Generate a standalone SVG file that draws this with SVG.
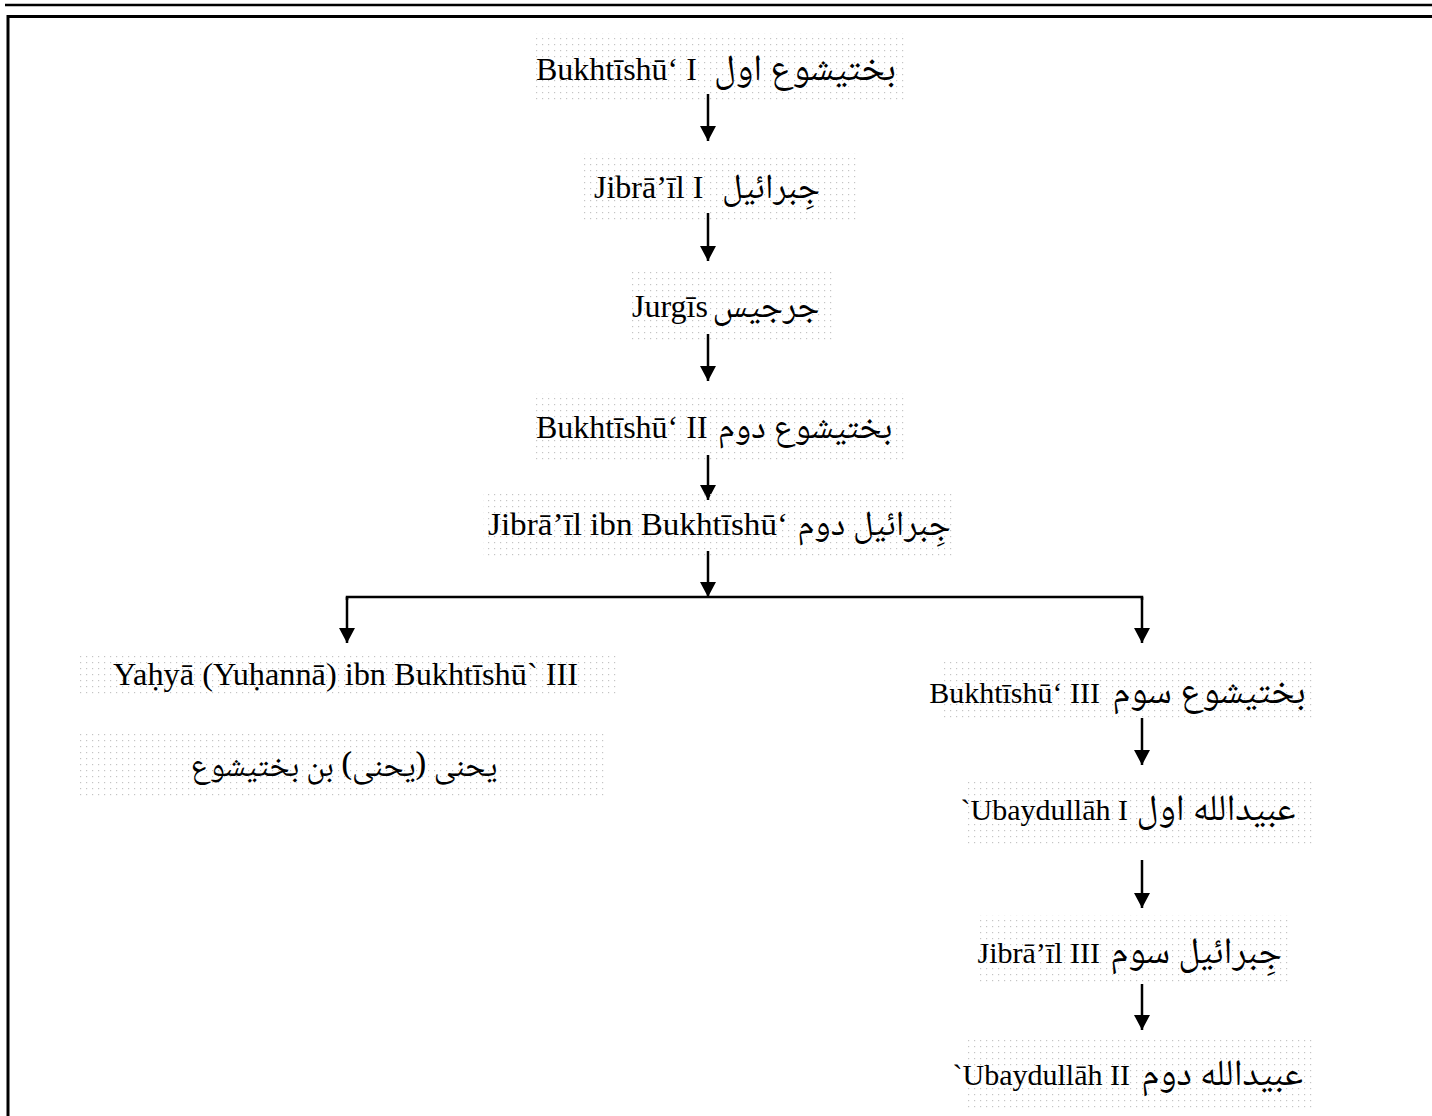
<svg xmlns="http://www.w3.org/2000/svg" width="1432" height="1116" viewBox="0 0 1432 1116">
<defs>
<pattern id="dots" x="0" y="0" width="6" height="6" patternUnits="userSpaceOnUse">
<rect x="2" y="2" width="1.2" height="1.2" fill="#c4c4c4"/>
</pattern>
<marker id="ah" markerWidth="15" markerHeight="16" refX="15" refY="8" orient="auto" markerUnits="userSpaceOnUse" viewBox="0 0 15 16">
<path d="M0,0 L15,8 L0,16 Z" fill="#000"/>
</marker>
</defs>
<style>
.bg{fill:url(#dots);}
.l{font-family:"Liberation Serif",serif;font-size:32px;fill:#000;}
.r{font-family:"Liberation Serif",serif;font-size:30px;fill:#000;text-anchor:end;}
.ar{font-family:"Noto Naskh Arabic","DejaVu Sans",serif;font-size:35px;fill:#000;text-anchor:middle;direction:rtl;}
.ar2{font-family:"Noto Naskh Arabic","DejaVu Sans",serif;font-size:37px;fill:#000;text-anchor:middle;direction:rtl;}
.c{fill:none;stroke:#000;stroke-width:2.5;}
.a{fill:none;stroke:#000;stroke-width:2.5;marker-end:url(#ah);}
</style>
<rect width="1432" height="1116" fill="#fff"/>
<line x1="5" y1="5" x2="1432" y2="5" stroke="#000" stroke-width="2.5"/>
<path d="M8,1116 V16.5 H1432" fill="none" stroke="#000" stroke-width="3"/>

<g id="connectors">
<line class="a" x1="708" y1="94" x2="708" y2="141"/>
<line class="a" x1="708" y1="213" x2="708" y2="261"/>
<line class="a" x1="708" y1="334" x2="708" y2="381"/>
<line class="a" x1="708" y1="455" x2="708" y2="500"/>
<line class="a" x1="708" y1="551" x2="708" y2="597"/>
<polyline class="c" points="347,600 347,597 1142,597 1142,600"/>
<line class="a" x1="347" y1="597" x2="347" y2="643"/>
<line class="a" x1="1142" y1="597" x2="1142" y2="643"/>
<line class="a" x1="1142" y1="718" x2="1142" y2="765"/>
<line class="a" x1="1142" y1="860" x2="1142" y2="908"/>
<line class="a" x1="1142" y1="984" x2="1142" y2="1030"/>
</g>

<g id="n1">
<rect class="bg" x="533" y="33" width="374" height="67"/>
<text class="l" x="536" y="80">Bukhtīshū‘ I</text>
<text class="ar2" x="805" y="80">بختيشوع اول</text>
</g>
<g id="n2">
<rect class="bg" x="582" y="153" width="278" height="67"/>
<text class="l" x="594" y="198">Jibrā’īl I</text>
<text class="ar" x="771" y="198">جِبرائيل</text>
</g>
<g id="n3">
<rect class="bg" x="628" y="270" width="207" height="70"/>
<text class="l" x="632" y="317">Jurgīs</text>
<text class="ar" x="766" y="317">جرجيس</text>
</g>
<g id="n4">
<rect class="bg" x="533" y="393" width="374" height="67"/>
<text class="l" x="536" y="438">Bukhtīshū‘ II</text>
<text class="ar" x="805" y="438">بختيشوع دوم</text>
</g>
<g id="n5">
<rect class="bg" x="483" y="490" width="472" height="70"/>
<text class="l" x="488" y="535" textLength="300" lengthAdjust="spacingAndGlyphs">Jibrā’īl ibn Bukhtīshū‘</text>
<text class="ar" x="874" y="535">جِبرائيل دوم</text>
</g>
<g id="n6">
<rect class="bg" x="80" y="655" width="538" height="40"/>
<text class="l" x="113" y="685" textLength="465" lengthAdjust="spacingAndGlyphs">Yaḥyā (Yuḥannā) ibn Bukhtīshū` III</text>
</g>
<g id="n6b">
<rect class="bg" x="80" y="730" width="528" height="70"/>
<text class="ar" x="344" y="776" style="font-size:32px">يحنى (يحنى) بن بختيشوع</text>
</g>
<g id="n7">
<rect class="bg" x="940" y="660" width="375" height="62"/>
<text class="r" x="1100" y="703">Bukhtīshū‘ III</text>
<text class="ar2" x="1209" y="703">بختيشوع سوم</text>
</g>
<g id="n8">
<rect class="bg" x="965" y="780" width="350" height="68"/>
<text class="r" x="1128" y="820">`Ubaydullāh I</text>
<text class="ar2" x="1216" y="820">عبيدالله اول</text>
</g>
<g id="n9">
<rect class="bg" x="980" y="915" width="310" height="70"/>
<text class="r" x="1100" y="963">Jibrā’īl III</text>
<text class="ar2" x="1196" y="963">جِبرائيل سوم</text>
</g>
<g id="n10">
<rect class="bg" x="965" y="1040" width="350" height="70"/>
<text class="r" x="1130" y="1085">`Ubaydullāh II</text>
<text class="ar2" x="1222" y="1085">عبيدالله دوم</text>
</g>
</svg>
